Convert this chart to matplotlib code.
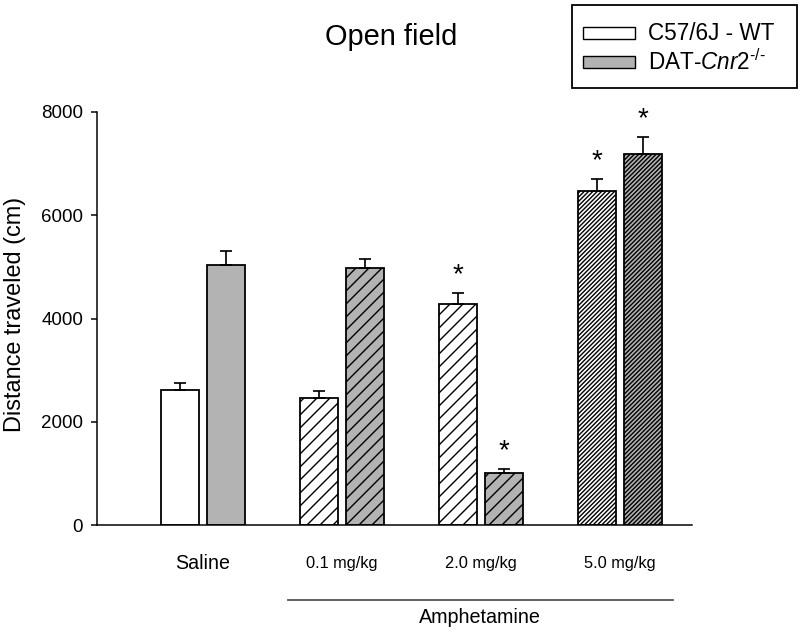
import matplotlib
matplotlib.use('Agg')
import matplotlib.pyplot as plt
from matplotlib.patches import Rectangle

groups = ['Saline', '0.1 mg/kg', '2.0 mg/kg', '5.0 mg/kg']
wt_mean = [2615, 2460, 4281, 6470]
wt_sem = [135, 136, 213, 232]
ko_mean = [5036, 4978, 1007, 7186]
ko_sem = [272, 175, 78, 330]
wt_star = [False, False, True, True]
ko_star = [False, False, True, True]
hatches = ['', '//', '//', '//////']
legend_labels = ['C57/6J - WT', 'DAT-$\\mathit{Cnr2}^{\\text{-/-}}$']

DPI = 78
W, H = 800, 634
def pt(px):
    return px * 72.0 / DPI

plt.rcParams['font.family'] = ['Liberation Sans', 'DejaVu Sans']
plt.rcParams['mathtext.fontset'] = 'custom'
plt.rcParams['mathtext.rm'] = 'Liberation Sans'
plt.rcParams['mathtext.it'] = 'Liberation Sans:italic'
plt.rcParams['hatch.linewidth'] = pt(1.4)

grey = '#b3b3b3'
fig = plt.figure(figsize=(W / DPI, H / DPI), dpi=DPI)
ax = fig.add_axes([97 / W, 1 - 525 / H, 595 / W, 413 / H])

x = range(len(groups))
w = 0.273
off = 0.165
for i in x:
    ax.bar(i - off, wt_mean[i], w, color='white', edgecolor='black', linewidth=pt(1.8),
           hatch=hatches[i], yerr=[[0], [wt_sem[i]]], capsize=pt(6),
           error_kw=dict(elinewidth=pt(1.7), capthick=pt(1.7)))
    ax.bar(i + off, ko_mean[i], w, color=grey, edgecolor='black', linewidth=pt(1.8),
           hatch=hatches[i], yerr=[[0], [ko_sem[i]]], capsize=pt(6),
           error_kw=dict(elinewidth=pt(1.7), capthick=pt(1.7)))
    if wt_star[i]:
        ax.annotate('*', (i - off, wt_mean[i] + wt_sem[i]), xytext=(0, pt(5)),
                    textcoords='offset points', ha='center', va='bottom', fontsize=pt(28))
    if ko_star[i]:
        ax.annotate('*', (i + off, ko_mean[i] + ko_sem[i]), xytext=(0, pt(5)),
                    textcoords='offset points', ha='center', va='bottom', fontsize=pt(28))

ax.set_xlim(-0.763, 3.518)
ax.set_ylim(0, 8000)
ax.set_yticks([0, 2000, 4000, 6000, 8000])
ax.tick_params(axis='y', direction='out', length=pt(6), width=pt(1.5), pad=pt(8), labelsize=pt(18.8))
ax.set_xticks([])
for s in ['top', 'right']:
    ax.spines[s].set_visible(False)
for s in ['left', 'bottom']:
    ax.spines[s].set_linewidth(pt(1.5))
ax.set_ylabel('Distance traveled (cm)', fontsize=pt(23.5), va='center')
ax.yaxis.set_label_coords((15 - 97) / 595, 0.51)

tr = ax.get_xaxis_transform()
for i, g in enumerate(groups):
    ax.text(i, -0.094, g, transform=tr, ha='center', va='center',
            fontsize=pt(19.6) if i == 0 else pt(16.4))
ax.plot([0.612, 3.381], [-0.1816, -0.1816], transform=tr, color='#555555',
        linewidth=pt(1.8), clip_on=False)
ax.text(1.99, -0.225, 'Amphetamine', transform=tr, ha='center', va='center', fontsize=pt(19.8))

fig.text(391 / W, 1 - 37 / H, 'Open field', ha='center', va='center', fontsize=pt(29))

# legend box drawn by hand so it matches the boxed key of the original
fig.patches.append(Rectangle((572 / W, 1 - 88 / H), 225 / W, 83 / H, transform=fig.transFigure,
                             facecolor='white', edgecolor='black', linewidth=pt(1.8)))
for k, (lab, fc) in enumerate(zip(legend_labels, ['white', grey])):
    yc = 33 + 29 * k
    fig.patches.append(Rectangle((583 / W, 1 - (yc + 6) / H), 52 / W, 12 / H,
                                 transform=fig.transFigure, facecolor=fc,
                                 edgecolor='black', linewidth=pt(1.4)))
    fig.text(648 / W, 1 - yc / H, lab, ha='left', va='center', fontsize=pt(22.5))

fig.savefig('out.png', dpi=DPI)
